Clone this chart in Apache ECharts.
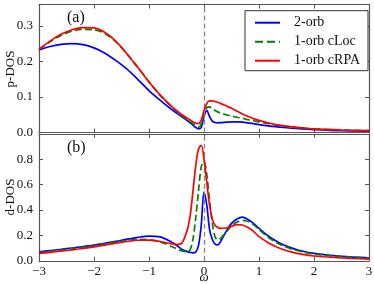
<!DOCTYPE html>
<html><head><meta charset="utf-8">
<script src="https://cdn.jsdelivr.net/npm/echarts@6/dist/echarts.min.js"></script>
<style>html,body{margin:0;padding:0;background:#fff}#c{width:374px;height:284px}</style>
</head><body><div id="c"></div>
<script>
var xs = [-3, -2.8, -2.6, -2.4, -2.2, -2.0, -1.8, -1.6, -1.4, -1.2, -1.0, -0.8, -0.6, -0.5, -0.4, -0.3, -0.25, -0.2, -0.15, -0.1, -0.05, 0, 0.05, 0.1, 0.15, 0.2, 0.25, 0.3, 0.4, 0.5, 0.6, 0.7, 0.8, 0.9, 1.0, 1.2, 1.4, 1.6, 1.8, 2.0, 2.5, 3.0];
var pBlue = [0.232,0.242,0.248,0.250,0.247,0.238,0.223,0.202,0.178,0.149,0.118,0.091,0.066,0.055,0.044,0.033,0.027,0.021,0.014,0.010,0.014,0.045,0.062,0.045,0.032,0.028,0.027,0.028,0.029,0.030,0.030,0.029,0.027,0.025,0.022,0.018,0.015,0.012,0.010,0.008,0.005,0.004];
var pGreen = [0.234,0.255,0.273,0.285,0.290,0.289,0.278,0.255,0.221,0.183,0.143,0.105,0.074,0.060,0.047,0.036,0.030,0.025,0.019,0.015,0.024,0.052,0.070,0.072,0.067,0.062,0.058,0.055,0.050,0.046,0.043,0.040,0.036,0.033,0.030,0.024,0.019,0.015,0.012,0.010,0.007,0.005];
var pRed = [0.234,0.257,0.276,0.289,0.295,0.294,0.281,0.256,0.221,0.182,0.142,0.106,0.075,0.062,0.050,0.040,0.035,0.030,0.026,0.025,0.035,0.062,0.082,0.089,0.089,0.087,0.085,0.082,0.075,0.068,0.060,0.052,0.045,0.039,0.034,0.026,0.020,0.016,0.013,0.010,0.007,0.005];
var dBlue = [0.070,0.080,0.090,0.101,0.112,0.123,0.138,0.153,0.170,0.185,0.195,0.188,0.150,0.122,0.090,0.072,0.066,0.063,0.070,0.12,0.28,0.54,0.44,0.25,0.17,0.132,0.125,0.15,0.23,0.295,0.33,0.344,0.325,0.295,0.255,0.185,0.135,0.100,0.075,0.058,0.035,0.023];
var dGreen = [0.065,0.075,0.085,0.096,0.107,0.118,0.132,0.147,0.160,0.168,0.166,0.150,0.115,0.095,0.078,0.072,0.09,0.17,0.34,0.55,0.74,0.78,0.68,0.48,0.30,0.19,0.165,0.175,0.225,0.275,0.305,0.318,0.310,0.285,0.245,0.175,0.125,0.092,0.070,0.054,0.033,0.022];
var dRed = [0.058,0.067,0.076,0.086,0.097,0.110,0.124,0.139,0.152,0.162,0.163,0.152,0.135,0.128,0.140,0.25,0.36,0.55,0.75,0.88,0.91,0.80,0.62,0.44,0.33,0.28,0.262,0.256,0.258,0.272,0.285,0.282,0.262,0.232,0.19,0.135,0.095,0.068,0.050,0.038,0.022,0.013];
var names = ['2-orb', '1-orb cLoc', '1-orb cRPA'];

function pairs(ys){ return xs.map(function(x,i){ return [x, ys[i]]; }); }
var serif = 'Liberation Serif';
var ac = '#555';
function xAx(grid, pos, labels){
  return {type:'value', gridIndex:grid, position:pos, min:-3, max:3, interval:1,
    axisLine:{show:true, onZero:false, lineStyle:{color:ac, width:1.2}},
    axisTick:{show:true, inside:true, length:4, lineStyle:{color:ac}},
    splitLine:{show:false},
    axisLabel:{show:labels, margin:4, fontFamily:serif, fontSize:13, color:'#111',
      formatter:function(v){ return (v<0?'\u2212':'')+Math.abs(v); }}};
}
function yAx(grid, pos, labels, max, interval){
  return {type:'value', gridIndex:grid, position:pos, min:0, max:max, interval:interval,
    axisLine:{show:true, onZero:false, lineStyle:{color:ac, width:1.2}},
    axisTick:{show:true, inside:true, length:4, lineStyle:{color:ac}},
    splitLine:{show:false},
    axisLabel:{show:labels, margin:6, showMaxLabel:false, fontFamily:serif, fontSize:13, color:'#111',
      formatter:function(v){ return v.toFixed(1); }}};
}
var colors = ['#0000ff', '#008000', '#ff0000'];
var types = ['solid', 'dashed', 'solid'];
function ser(i, ys, g){
  return {name:names[i], type:'line', xAxisIndex:g*2, yAxisIndex:g*2, data:pairs(ys),
    symbol:'none', smooth:0.3, z: 3+i,
    lineStyle:{color:colors[i], width:1.7, type:types[i]}, itemStyle:{color:colors[i]}};
}
function zl(g){
  return {type:'line', xAxisIndex:g*2, yAxisIndex:g*2, data:[], silent:true,
    markLine:{silent:true, symbol:'none', label:{show:false},
      lineStyle:{color:'#888', type:[5,3], width:1.3}, data:[{xAxis:0}]}};
}
function txt(t, x, y, rot, italic){
  return {type:'text', x:x, y:y, rotation:rot,
    style:{text:t, fontFamily:serif, fontSize:13, fontStyle: italic?'italic':'normal', fill:'#111', align:'center', verticalAlign:'middle'}};
}
var chart = echarts.init(document.getElementById('c'), null, {renderer:'canvas'});
chart.setOption({
  animation:false,
  grid:[{left:39, right:5, top:4.5, height:128, outerBoundsMode:'none', containLabel:false},
        {left:39, right:5, top:133.8, height:127, outerBoundsMode:'none', containLabel:false}],
  xAxis:[xAx(0,'bottom',false), xAx(0,'top',false), xAx(1,'bottom',true), xAx(1,'top',false)],
  yAxis:[yAx(0,'left',true,0.36,0.1), yAx(0,'right',false,0.36,0.1),
         yAx(1,'left',true,1.0,0.2), yAx(1,'right',false,1.0,0.2)],
  legend:{data:names, orient:'vertical', right:6, top:10.7, itemWidth:25, itemHeight:14, itemGap:5,
    padding:[5,8,3,9], backgroundColor:'#fff', borderColor:'#333', borderWidth:1,
    itemStyle:{opacity:0},
    textStyle:{fontFamily:serif, fontSize:14, color:'#111', padding:[0,0,0,9]}},
  graphic:[
    {type:'text', left:67, top:10, style:{text:'(a)', font:'16px "Liberation Serif"', fill:'#111'}},
    {type:'text', left:67, top:140, style:{text:'(b)', font:'16px "Liberation Serif"', fill:'#111'}},
    txt('p-DOS', 11, 69, Math.PI/2, false),
    txt('d-DOS', 11, 197, Math.PI/2, false),
    txt('\u03c9', 204, 278, 0, true)
  ],
  series:[zl(0), zl(1),
    ser(0,pBlue,0), ser(1,pGreen,0), ser(2,pRed,0),
    ser(0,dBlue,1), ser(1,dGreen,1), ser(2,dRed,1)]
});
</script></body></html>
